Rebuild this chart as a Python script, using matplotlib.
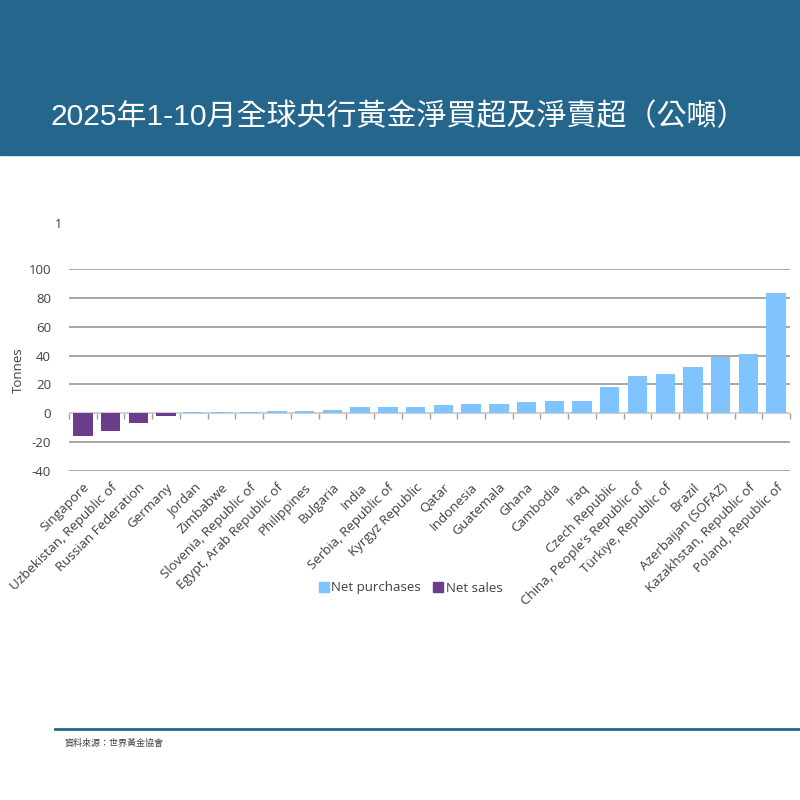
"""2025年1-10月全球央行黃金淨買超及淨賣超 — bar chart recreation."""

import matplotlib

matplotlib.use("Agg")
import matplotlib.pyplot as plt
from matplotlib.patches import Rectangle
from matplotlib.lines import Line2D

plt.rcParams["font.family"] = ["Open Sans", "Noto Sans CJK TC", "DejaVu Sans"]

COUNTRIES = [
    "Singapore", "Uzbekistan, Republic of", "Russian Federation", "Germany",
    "Jordan", "Zimbabwe", "Slovenia, Republic of", "Egypt, Arab Republic of",
    "Philippines", "Bulgaria", "India", "Serbia, Republic of",
    "Kyrgyz Republic", "Qatar", "Indonesia", "Guatemala", "Ghana",
    "Cambodia", "Iraq", "Czech Republic", "China, People's Republic of",
    "Türkiye, Republic of", "Brazil", "Azerbaijan (SOFAZ)",
    "Kazakhstan, Republic of", "Poland, Republic of",
]
TONNES = [
    -15.5, -12.0, -6.5, -1.7,
    0.9, 0.9, 0.9, 1.8,
    1.8, 2.1, 4.2, 4.2,
    4.6, 5.8, 6.2, 6.7, 7.9,
    8.3, 8.6, 18.5, 25.5,
    27.3, 31.9, 38.9,
    41.4, 83.3,
]
Y_TICKS = [-40, -20, 0, 20, 40, 60, 80, 100]

BLUE_HEADER = "#24668C"
C_BUY = "#80C4FF"
C_SELL = "#6B3D8C"
TXT = "#404040"

fig = plt.figure(figsize=(8, 8), dpi=100)

# header band
fig.patches.append(Rectangle((0, 1 - 155 / 800), 1, 155 / 800,
                             transform=fig.transFigure, color=BLUE_HEADER,
                             zorder=0))
fig.text(50 / 800, 1 - 117 / 800, "2025年1-10月全球央行黃金淨買超及淨賣超（公噸）",
         color="white", fontsize=21.6, fontweight="medium", va="center",
         ha="left", family=["Liberation Sans", "Noto Sans CJK TC", "DejaVu Sans"])

ax = fig.add_axes([69 / 800, 1 - 471 / 800, 721 / 800, 202 / 800])
x = range(len(COUNTRIES))
colors = [C_SELL if v < 0 else C_BUY for v in TONNES]
ax.bar(x, TONNES, width=0.7, color=colors, zorder=3)

ax.set_xlim(-0.5, len(COUNTRIES) - 0.5)
ax.set_ylim(-40, 100)
ax.set_yticks(Y_TICKS)
ax.set_yticklabels([str(t) for t in Y_TICKS], fontsize=9.5, color=TXT)
ax.tick_params(axis="y", length=0, pad=13)
ax.grid(axis="y", color="#A6A6A6", linewidth=1.4, zorder=0)
for s in ax.spines.values():
    s.set_visible(False)

ax.set_xticks(list(x))
ax.set_xticklabels(COUNTRIES, rotation=45, ha="right", rotation_mode="anchor",
                   fontsize=9.6, color=TXT)
ax.tick_params(axis="x", length=0, pad=7)

# category axis at zero with boundary ticks
ax.axhline(0, color="#D9D9D9", linewidth=1.2, zorder=2)
sec = ax.secondary_xaxis(0, transform=ax.transData)
sec.set_xticks([i + 0.5 for i in range(-1, len(COUNTRIES))])
sec.set_xticklabels([])
sec.tick_params(axis="x", length=4, color="#A0A0A0", width=1)
sec.spines["bottom"].set_visible(False)

ax.set_ylabel("Tonnes", fontsize=9.5, color=TXT)
ax.yaxis.set_label_coords((25 - 69) / 721, 0.5)

fig.text(58 / 800, 1 - 224 / 800, "1", fontsize=9, color=TXT,
         ha="center", va="center")

handles = [
    Line2D([], [], marker="s", linestyle="none", markersize=7,
           markerfacecolor=C_BUY, markeredgecolor=C_BUY, label="Net purchases"),
    Line2D([], [], marker="s", linestyle="none", markersize=7,
           markerfacecolor=C_SELL, markeredgecolor=C_SELL, label="Net sales"),
]
leg = fig.legend(handles=handles, loc="center", ncol=2, frameon=False,
                 bbox_to_anchor=(410 / 800, 1 - 588 / 800), fontsize=9.5,
                 handletextpad=0.1, columnspacing=0.8, handlelength=1)
for t in leg.get_texts():
    t.set_color(TXT)

# footer
fig.add_artist(Line2D([55 / 800, 1], [1 - 729 / 800] * 2,
                      transform=fig.transFigure, color=BLUE_HEADER,
                      linewidth=2))
fig.text(65 / 800, 1 - 743 / 800, "資料來源：世界黃金協會", fontsize=6.5,
         color=TXT, va="center", ha="left",
         family=["Noto Sans CJK TC", "DejaVu Sans"])

fig.savefig("out.png", dpi=100)
